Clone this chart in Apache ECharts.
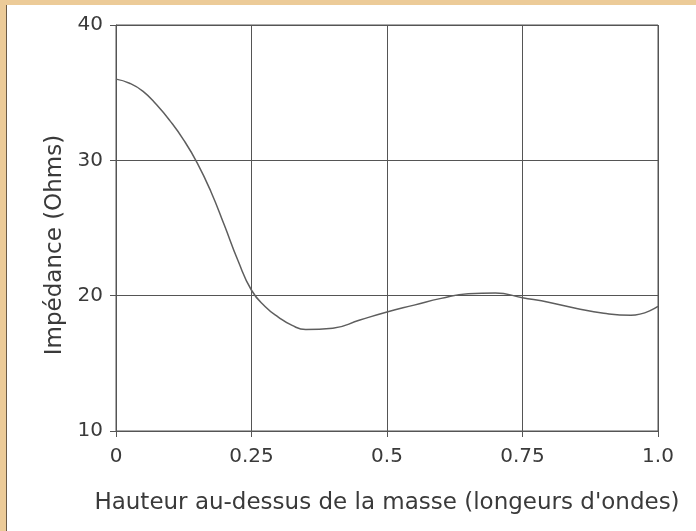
<!DOCTYPE html>
<html>
<head>
<meta charset="utf-8">
<script src="https://cdn.jsdelivr.net/npm/echarts@6/dist/echarts.min.js"></script>
<style>
  html, body { margin: 0; padding: 0; background: #fff; }
  #chart { width: 696px; height: 531px; }
</style>
</head>
<body>
<div id="chart"></div>
<script>
// hauteur (longueurs d'onde) et impédance
var hauteur = [0, 0.025, 0.05, 0.075, 0.1, 0.125, 0.15, 0.175, 0.2, 0.225, 0.25,
               0.275, 0.3, 0.325, 0.35, 0.4, 0.45, 0.5, 0.55, 0.6, 0.65,
               0.7, 0.75, 0.8, 0.85, 0.9, 0.95, 1.0];
var impedance = [36.0, 35.7, 35.1, 34.1, 32.9, 31.5, 29.8, 27.7, 25.2, 22.6, 20.4,
                 19.2, 18.4, 17.8, 17.5, 17.6, 18.2, 18.8, 19.3, 19.8, 20.15,
                 20.2, 19.85, 19.5, 19.05, 18.7, 18.55, 19.2];
var xTicks = [0, 0.25, 0.5, 0.75, 1.0];
var yTicks = [10, 20, 30, 40];

var textColor = '#3a3a3a';
var gridColor = '#555';
var font = 'DejaVu Sans, Liberation Sans, sans-serif';

var chart = echarts.init(document.getElementById('chart'));

var points = [];
for (var i = 0; i < hauteur.length; i++) {
    points.push([hauteur[i], impedance[i]]);
}

var option = {
    backgroundColor: '#fff',
    animation: false,
    textStyle: { fontFamily: font, color: textColor },
    graphic: [ //cadre beige du scan
        { type: 'rect', left: 0, top: 0, shape: { width: 7, height: 531 }, style: { fill: '#eccb98' } },
        { type: 'rect', left: 0, top: 0, shape: { width: 696, height: 5 }, style: { fill: '#eccb98' } },
        { type: 'rect', left: 6, top: 5, shape: { width: 1, height: 526 }, style: { fill: '#6b5a45' } }
    ],
    grid: {
        left: 116,
        right: 38,
        top: 25,
        bottom: 100,
        show: true,
        borderColor: gridColor,
        borderWidth: 1
    },
    xAxis: {
        type: 'value',
        min: xTicks[0],
        max: xTicks[xTicks.length - 1],
        interval: 0.25,
        name: "Hauteur au-dessus de la masse (longeurs d'ondes)",
        nameLocation: 'middle',
        nameGap: 61,
        nameTextStyle: { fontSize: 23, color: textColor, fontFamily: font },
        axisLine: { show: true, lineStyle: { color: gridColor, width: 1 } },
        axisTick: { show: true, length: 6, inside: false, lineStyle: { color: gridColor } },
        axisLabel: {
            fontSize: 20,
            color: textColor,
            fontFamily: font,
            margin: 16,
            formatter: function (v) { return v === 1 ? '1.0' : String(v); }
        },
        splitLine: { show: true, lineStyle: { color: gridColor, width: 1 } }
    },
    yAxis: {
        type: 'value',
        min: yTicks[0],
        max: yTicks[yTicks.length - 1],
        interval: 10,
        name: 'Impédance (Ohms)',
        nameLocation: 'middle',
        nameGap: 46,
        nameRotate: 90,
        nameTextStyle: { fontSize: 23, color: textColor, fontFamily: font, padding: [0, 34, 0, 0] },
        axisLine: { show: true, lineStyle: { color: gridColor, width: 1 } },
        axisTick: { show: true, length: 6, inside: false, lineStyle: { color: gridColor } },
        axisLabel: { fontSize: 20, color: textColor, fontFamily: font, margin: 13 },
        splitLine: { show: true, lineStyle: { color: gridColor, width: 1 } }
    },
    series: [{
        type: 'line',
        data: points,
        smooth: 0.5,
        showSymbol: false,
        lineStyle: { color: '#5e5e5e', width: 1.5 }
    }]
};

chart.setOption(option);
</script>
</body>
</html>
